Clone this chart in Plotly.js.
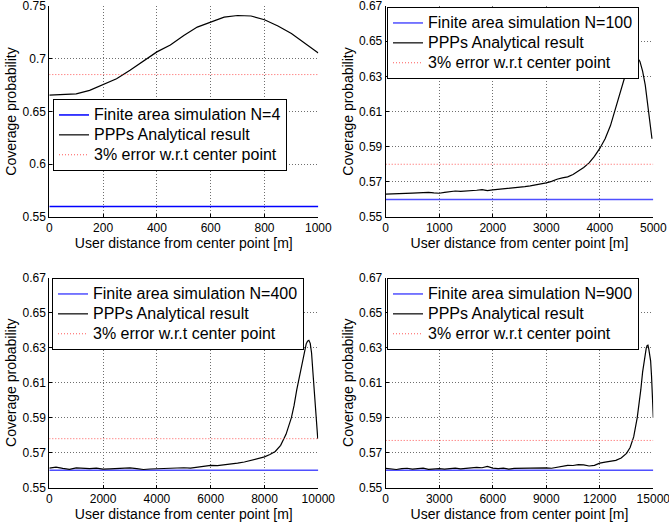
<!DOCTYPE html>
<html>
<head>
<meta charset="utf-8">
<script src="https://cdn.plot.ly/plotly-3.0.1.min.js"></script>
<style>
html,body{margin:0;padding:0;background:#fff;}
#chart{width:669px;height:522px;}
</style>
</head>
<body>
<div id="chart"></div>
<script>
// ---------- Data ----------
// Panel 1: N = 4, distance 0..1000 m
const x1 = [0,50,100,150,200,250,300,350,400,450,500,550,600,650,700,750,800,850,900,950,1000];
const ppp1 = [0.6655,0.6662,0.6668,0.6700,0.6755,0.6810,0.6890,0.6975,0.7065,0.7130,0.7220,0.7300,0.7350,0.7395,0.7410,0.7405,0.7370,0.7310,0.7240,0.7150,0.7055];
const sim1 = 0.56;
const err1 = 0.685;

// Panel 2: N = 100, distance 0..5000 m
const x2 = [0,100,200,300,400,500,600,700,800,900,1000,1100,1200,1300,1400,1500,1600,1700,1800,1900,2000,2100,2200,2300,2400,2500,2600,2700,2800,2900,3000,3100,3200,3300,3400,3500,3600,3700,3800,3900,4000,4100,4200,4300,4400,4500,4550,4600,4650,4700,4750,4800,4850,4900,4950,4975];
const ppp2 = [0.5630,0.5632,0.5634,0.5633,0.5635,0.5636,0.5637,0.5639,0.5640,0.5637,0.5635,0.5640,0.5645,0.5648,0.5646,0.5647,0.5648,0.5652,0.5656,0.5650,0.5654,0.5657,0.5659,0.5660,0.5663,0.5668,0.5673,0.5677,0.5682,0.5688,0.5694,0.5703,0.5715,0.5722,0.5728,0.5742,0.5760,0.5782,0.5808,0.5845,0.5890,0.5945,0.6020,0.6125,0.6235,0.6330,0.6370,0.6402,0.6416,0.6408,0.6385,0.6330,0.6250,0.6130,0.6000,0.5945];
const sim2 = 0.56;
const err2 = 0.58;

// Panel 3: N = 400, distance 0..10000 m
const x3 = [0,250,500,750,1000,1250,1500,1750,2000,2250,2500,2750,3000,3250,3500,3750,4000,4250,4500,4750,5000,5250,5500,5750,6000,6250,6500,6750,7000,7250,7500,7750,8000,8200,8400,8600,8800,9000,9100,9200,9300,9400,9500,9550,9600,9650,9700,9750,9800,9850,9900,9950,9980];
const ppp3 = [0.5612,0.5617,0.5610,0.5605,0.5613,0.5611,0.5609,0.5612,0.5606,0.5608,0.5611,0.5610,0.5613,0.5609,0.5604,0.5607,0.5609,0.5612,0.5611,0.5615,0.5614,0.5612,0.5617,0.5625,0.5628,0.5626,0.5630,0.5635,0.5640,0.5647,0.5656,0.5664,0.5676,0.5690,0.5707,0.5742,0.5805,0.5900,0.5970,0.6060,0.6140,0.6220,0.6295,0.6322,0.6337,0.6342,0.6325,0.6270,0.6160,0.6050,0.5950,0.5850,0.5780];
const sim3 = 0.56;
const err3 = 0.578;

// Panel 4: N = 900, distance 0..15000 m
const x4 = [0,300,600,900,1200,1500,1800,2100,2400,2700,3000,3300,3600,3900,4200,4500,4800,5100,5400,5700,6000,6300,6600,6900,7200,7500,7800,8100,8400,8700,9000,9300,9600,9900,10200,10500,10800,11100,11400,11700,12000,12300,12600,12900,13200,13500,13700,13900,14100,14200,14300,14400,14500,14600,14650,14700,14750,14800,14850,14900,14950,15000];
const ppp4 = [0.5610,0.5606,0.5604,0.5609,0.5611,0.5606,0.5609,0.5612,0.5605,0.5607,0.5609,0.5606,0.5610,0.5612,0.5608,0.5611,0.5613,0.5616,0.5614,0.5622,0.5612,0.5609,0.5612,0.5606,0.5610,0.5611,0.5609,0.5613,0.5612,0.5615,0.5613,0.5611,0.5617,0.5621,0.5628,0.5627,0.5632,0.5630,0.5624,0.5628,0.5640,0.5646,0.5652,0.5656,0.5670,0.5696,0.5730,0.5790,0.5900,0.5975,0.6060,0.6160,0.6240,0.6295,0.6312,0.6315,0.6290,0.6260,0.6225,0.6140,0.6020,0.5900];
const sim4 = 0.56;
const err4 = 0.577;

// Tick values and labels
const xTicks1 = [0,200,400,600,800,1000];
const xTicks2 = [0,1000,2000,3000,4000,5000];
const xTicks3 = [0,2000,4000,6000,8000,10000];
const xTicks4 = [0,3000,6000,9000,12000,15000];
const yTicks1 = [0.55,0.6,0.65,0.7,0.75];
const yTicks1Text = ["0.55","0.6","0.65","0.7","0.75"];
const yTicksN = [0.55,0.57,0.59,0.61,0.63,0.65,0.67];
const yTicksNText = ["0.55","0.57","0.59","0.61","0.63","0.65","0.67"];

const simNames = ["Finite area simulation N=4","Finite area simulation N=100","Finite area simulation N=400","Finite area simulation N=900"];
const pppName = "PPPs Analytical result";
const errName = "3% error w.r.t center point";
const xTitle = "User distance from center point [m]";
const yTitle = "Coverage probability";

// ---------- Build ----------
const panels = [
  {x:x1, y:ppp1, sim:sim1, err:err1, xmax:1000, xt:xTicks1, ymin:0.55, ymax:0.75, yt:yTicks1, ytt:yTicks1Text, blue:'#0000ff'},
  {x:x2, y:ppp2, sim:sim2, err:err2, xmax:5000, xt:xTicks2, ymin:0.55, ymax:0.67, yt:yTicksN, ytt:yTicksNText, blue:'#4f4fff'},
  {x:x3, y:ppp3, sim:sim3, err:err3, xmax:10000, xt:xTicks3, ymin:0.55, ymax:0.67, yt:yTicksN, ytt:yTicksNText, blue:'#4f4fff'},
  {x:x4, y:ppp4, sim:sim4, err:err4, xmax:15000, xt:xTicks4, ymin:0.55, ymax:0.67, yt:yTicksN, ytt:yTicksNText, blue:'#4f4fff'}
];

const W = 669, H = 522;
const boxes = [
  {l:49.3, r:318.3, t:6, b:217},
  {l:385.7, r:653.3, t:6, b:217},
  {l:49.3, r:318.3, t:277.7, b:487.7},
  {l:385.7, r:653.3, t:277.7, b:487.7}
];
const legPos = [
  {x:53, y:99},
  {x:387, y:7},
  {x:52, y:278},
  {x:387, y:278}
];

const FONT = '"Liberation Sans", Arial, Helvetica, sans-serif';
const big = s => '<span style="font-size:16px">' + s + '</span>';
const traces = [];
const layout = {
  width: W, height: H,
  margin: {l:0, r:0, t:0, b:0},
  paper_bgcolor: '#fff', plot_bgcolor: '#fff',
  font: {family: FONT, color: '#000', size: 12},
  showlegend: true
};

panels.forEach((p, i) => {
  const n = i + 1;
  const xa = n === 1 ? 'x' : 'x' + n;
  const ya = n === 1 ? 'y' : 'y' + n;
  const lg = n === 1 ? 'legend' : 'legend' + n;
  const xEnds = [0, p.xmax];
  traces.push({type:'scatter', mode:'lines', x:xEnds, y:[p.sim, p.sim], xaxis:xa, yaxis:ya, legend:lg,
    name:big(simNames[i]), line:{color:p.blue, width:1.5}});
  traces.push({type:'scatter', mode:'lines', x:p.x, y:p.y, xaxis:xa, yaxis:ya, legend:lg,
    name:big(pppName), line:{color:'#000', width:1.2}});
  traces.push({type:'scatter', mode:'lines', x:xEnds, y:[p.err, p.err], xaxis:xa, yaxis:ya, legend:lg,
    name:big(errName), line:{color:'#ff5a5a', width:1, dash:'1px,2px'}});

  const b = boxes[i];
  const axCommon = {
    showline:true, linecolor:'#000', linewidth:1, mirror:false,
    ticks:'inside', ticklen:3, tickcolor:'#000', tickwidth:1,
    showgrid:true, gridcolor:'#6e6e6e', gridwidth:1, griddash:'1px,2px',
    zeroline:false, fixedrange:true, ticklabeloverflow:'allow',
    tickfont:{family:FONT, size:12, color:'#000'}
  };
  layout['xaxis' + (n === 1 ? '' : n)] = Object.assign({}, axCommon, {
    domain:[b.l / W, b.r / W], anchor: ya,
    range:[0, p.xmax], tickmode:'array', tickvals:p.xt, ticktext:p.xt.map(String),
    title:{text:xTitle, font:{family:FONT, size:14, color:'#000'}, standoff:0}
  });
  layout['yaxis' + (n === 1 ? '' : n)] = Object.assign({}, axCommon, {
    domain:[(H - b.b) / H, (H - b.t) / H], anchor: xa,
    range:[p.ymin, p.ymax], tickmode:'array', tickvals:p.yt, ticktext:p.ytt,
    title:{text:yTitle, font:{family:FONT, size:14, color:'#000'}, standoff:2}
  });
  layout[lg] = {
    x: legPos[i].x / W, y: (H - legPos[i].y) / H, xanchor:'left', yanchor:'top',
    xref:'paper', yref:'paper',
    bgcolor:'#fff', bordercolor:'#000', borderwidth:1,
    font:{family:FONT, size:13, color:'#000'},
    tracegroupgap:0, itemclick:false, itemdoubleclick:false, itemwidth:30
  };
});

Plotly.newPlot('chart', traces, layout, {displayModeBar:false, staticPlot:true});
</script>
</body>
</html>
